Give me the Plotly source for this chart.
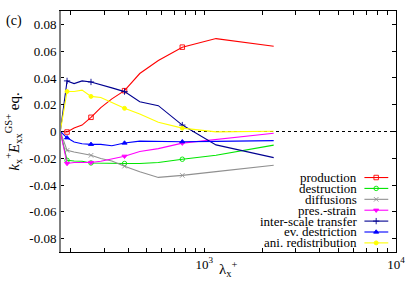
import plotly.graph_objects as go

# wavelength lambda_x^+ (ascending)
lam = [177, 192, 209, 230, 256, 288, 329, 383, 460, 575, 767, 1150, 2300]
marker_idx = [1, 4, 7, 10]

production = [0, -0.0004, 0.0026, 0.0048, 0.0106, 0.0178, 0.0244, 0.0305, 0.0433, 0.0530, 0.0630, 0.0694, 0.0637]
destruction = [0, -0.0215, -0.0220, -0.0222, -0.0235, -0.0237, -0.0240, -0.0239, -0.0239, -0.0232, -0.0207, -0.0178, -0.0102]
diffusions = [0, -0.0141, -0.0153, -0.0165, -0.0178, -0.0202, -0.0220, -0.0259, -0.0301, -0.0343, -0.0328, -0.0300, -0.0252]
pres_strain = [0, -0.0239, -0.0232, -0.0230, -0.0232, -0.0222, -0.0207, -0.0185, -0.0150, -0.0128, -0.0087, -0.0058, -0.0013]
inter_scale = [0, 0.0378, 0.0358, 0.0378, 0.0370, 0.0352, 0.0326, 0.0298, 0.0222, 0.0193, 0.0048, -0.0100, -0.0195]
ev_destriction = [0, -0.0047, -0.0079, -0.0091, -0.0096, -0.0096, -0.0106, -0.0086, -0.0072, -0.0076, -0.0076, -0.0074, -0.0068]
ani_redistribution = [0, 0.0299, 0.0299, 0.0309, 0.0262, 0.0254, 0.0217, 0.0173, 0.0131, 0.0069, 0.0025, -0.0003, 0.0002]

names = ["production", "destruction", "diffusions", "pres.-strain",
         "inter-scale transfer", "ev. destriction", "ani. redistribution"]
series = [production, destruction, diffusions, pres_strain, inter_scale, ev_destriction, ani_redistribution]
colors = ["#ff0000", "#00e600", "#909090", "#ff00ff", "#000090", "#0000ff", "#ffff00"]
symbols = ["square-open", "circle-open", "x-thin", "triangle-down", "cross-thin", "triangle-up", "circle"]
msizes = [4.5, 4.5, 4.5, 4.5, 4.5, 4.5, 4]

ytickvals = [0.08, 0.06, 0.04, 0.02, 0, -0.02, -0.04, -0.06, -0.08]
yticktext = ["0.08", "0.06", "0.04", "0.02", "0", "-0.02", "-0.04", "-0.06", "-0.08"]
xtickvals = [200, 300, 400, 500, 600, 700, 800, 900, 1000,
             2000, 3000, 4000, 5000, 6000, 7000, 8000, 9000, 10000]
xticktext = ["" for _ in xtickvals]
xticktext[8] = "10<sup>3</sup>"
xticktext[17] = "10<sup>4</sup>"

FONT = "Liberation Serif"

fig = go.Figure()
for name, ys, c, s, ms in zip(names, series, colors, symbols, msizes):
    fig.add_trace(go.Scatter(x=lam, y=ys, mode="lines", line=dict(color=c, width=1.1),
                             showlegend=False, hoverinfo="skip"))
    fig.add_trace(go.Scatter(x=[lam[i] for i in marker_idx], y=[ys[i] for i in marker_idx],
                             mode="markers",
                             marker=dict(symbol=s, size=ms, color=c, line=dict(color=c, width=0.9)),
                             showlegend=False, hoverinfo="skip"))

# custom legend (text right-aligned, sample on the right) drawn in an overlay axis
leg_text_x = 0.889
leg_x0, leg_xm, leg_x1 = 0.906, 0.941, 0.977
leg_y_top, leg_dy = 0.309, 0.0452
annotations = []
for i, (name, c, s, ms) in enumerate(zip(names, colors, symbols, msizes)):
    yy = leg_y_top - i * leg_dy
    fig.add_trace(go.Scatter(x=[leg_x0, leg_x1], y=[yy, yy], mode="lines",
                             line=dict(color=c, width=1.1), xaxis="x2", yaxis="y2",
                             showlegend=False, hoverinfo="skip"))
    fig.add_trace(go.Scatter(x=[leg_xm], y=[yy], mode="markers",
                             marker=dict(symbol=s, size=ms, color=c, line=dict(color=c, width=0.9)),
                             xaxis="x2", yaxis="y2", showlegend=False, hoverinfo="skip"))
    annotations.append(dict(x=leg_text_x, y=yy, xref="paper", yref="paper", text=name,
                            showarrow=False, xanchor="right", yanchor="middle",
                            font=dict(family=FONT, size=13, color="black")))

annotations.append(dict(x=-0.167, y=1.0, xref="paper", yref="paper", text="(c)",
                        showarrow=False, xanchor="left", yanchor="top",
                        font=dict(family=FONT, size=14, color="black")))
annotations.append(dict(x=0.5, y=-0.07, xref="paper", yref="paper",
                        text="λ<sub>x</sub><sup>+</sup>",
                        showarrow=False, xanchor="center", yanchor="middle",
                        font=dict(family=FONT, size=15, color="black")))

fig.update_layout(
    width=415, height=286,
    margin=dict(l=60, r=14, t=10, b=34),
    paper_bgcolor="white", plot_bgcolor="white",
    font=dict(family=FONT, size=13, color="black"),
    annotations=annotations,
    xaxis=dict(type="log", range=[2.2465, 4], tickvals=xtickvals, ticktext=xticktext,
               ticks="inside", ticklen=4, tickcolor="black", showline=True, linecolor="black",
               linewidth=1, mirror="allticks", showgrid=False, zeroline=False,
               ticklabeloverflow="allow",
               tickfont=dict(family=FONT, size=13)),
    yaxis=dict(range=[-0.09, 0.09], tickvals=ytickvals, ticktext=yticktext,
               ticks="inside", ticklen=4, tickcolor="black", showline=True, linecolor="black",
               linewidth=1, mirror="allticks", showgrid=False, zeroline=False,
               tickfont=dict(family=FONT, size=13),
               title=dict(text="<i>k</i><sub>x</sub><sup>+</sup><i>E</i><sub>xx</sub><sup>GS+</sup> eq.",
                          standoff=6, font=dict(family=FONT, size=15))),
    xaxis2=dict(overlaying="x", range=[0, 1], visible=False, showgrid=False),
    yaxis2=dict(overlaying="y", range=[0, 1], visible=False, showgrid=False),
    shapes=[
        dict(type="line", xref="paper", yref="y", x0=0, x1=1, y0=0, y1=0,
             line=dict(color="black", width=1, dash="dot"), layer="below"),
        dict(type="line", xref="paper", yref="paper", x0=0, x1=0, y0=0, y1=1,
             line=dict(color="#808080", width=2), layer="above"),
    ],
)

fig.write_html("out.html",
               config={"displayModeBar": False, "staticPlot": True},
               post_script="document.body.style.margin='0';document.body.style.overflow='hidden';")
